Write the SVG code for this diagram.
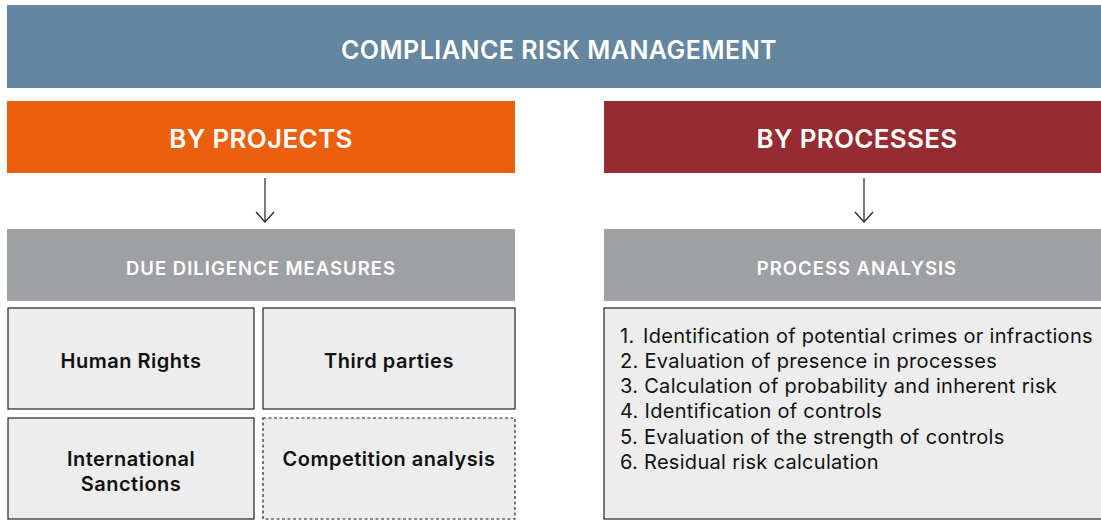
<svg xmlns="http://www.w3.org/2000/svg" width="1101" height="520" viewBox="0 0 1101 520">
<style>
text{font-family:Inter,"Noto Sans","Liberation Sans",sans-serif}
.hd{fill:#fff;font-weight:600;text-anchor:middle}
.box{fill:#ededed;stroke:#222;stroke-width:1.2}
.dash{stroke-dasharray:3 2.5}
.bt{fill:#111;font-size:20px;font-weight:600;letter-spacing:0.5px;text-anchor:middle}
.li{fill:#111;font-size:20px;letter-spacing:0.3px}
.conn{stroke:#222;stroke-width:1.2;fill:none}
</style>
<defs>
<marker id="ah" viewBox="0 0 12 20" refX="11" refY="10" markerWidth="12" markerHeight="20" markerUnits="userSpaceOnUse" orient="auto">
<path d="M1 1 L11 10 L1 19" fill="none" stroke="#222" stroke-width="1.2"/>
</marker>
</defs>
<g id="title"><rect x="7" y="5" width="1100" height="83" fill="#64869e"/><text class="hd" x="559" y="59" font-size="25" letter-spacing="0.5">COMPLIANCE RISK MANAGEMENT</text></g>
<g id="projects"><rect x="7" y="101" width="508" height="72" fill="#ea600e"/><text class="hd" x="261" y="148" font-size="26" letter-spacing="0.3">BY PROJECTS</text></g>
<g id="processes"><rect x="604" y="101" width="506" height="72" fill="#962b32"/><text class="hd" x="857" y="148" font-size="26" letter-spacing="0.3">BY PROCESSES</text></g>
<g id="connectors">
<line class="conn" x1="265" y1="178" x2="265" y2="222" marker-end="url(#ah)"/>
<line class="conn" x1="864" y1="178" x2="864" y2="222" marker-end="url(#ah)"/>
</g>
<g id="due"><rect x="7" y="229" width="508" height="72" fill="#9ea0a4"/><text class="hd" x="261" y="275" font-size="18.5" letter-spacing="1">DUE DILIGENCE MEASURES</text></g>
<g id="analysis"><rect x="604" y="229" width="506" height="72" fill="#9ea0a4"/><text class="hd" x="857" y="275" font-size="18.5" letter-spacing="1">PROCESS ANALYSIS</text></g>
<g id="human"><rect class="box" x="8" y="308" width="246" height="101"/><text class="bt" x="131" y="368">Human Rights</text></g>
<g id="third"><rect class="box" x="263" y="308" width="252" height="101"/><text class="bt" x="389" y="368">Third parties</text></g>
<g id="sanctions"><rect class="box" x="8" y="418" width="246" height="101"/><text class="bt" x="131" y="466">International</text><text class="bt" x="131" y="491">Sanctions</text></g>
<g id="competition"><rect class="box dash" x="263" y="418" width="252" height="101"/><text class="bt" x="389" y="466">Competition analysis</text></g>
<g id="steps"><rect class="box" x="604" y="308" width="506" height="211"/>
<text class="li" x="620" y="343">1. <tspan x="643">Identification of potential crimes or infractions</tspan></text>
<text class="li" x="620" y="368">2. Evaluation of presence in processes</text>
<text class="li" x="620" y="393">3. Calculation of probability and inherent risk</text>
<text class="li" x="620" y="418">4. Identification of controls</text>
<text class="li" x="620" y="444">5. Evaluation of the strength of controls</text>
<text class="li" x="620" y="469">6. Residual risk calculation</text>
</g>
</svg>
